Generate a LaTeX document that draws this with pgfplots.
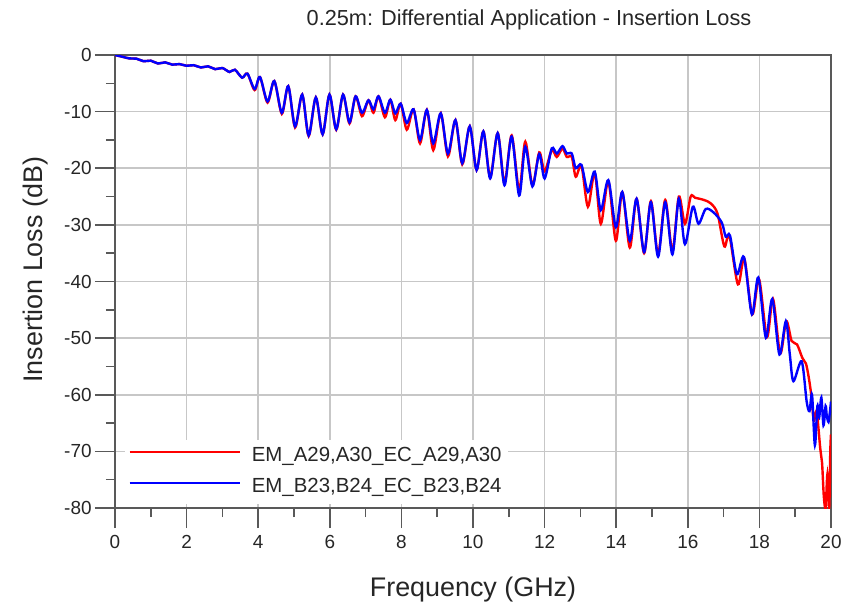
\documentclass[border=0pt]{standalone}
\usepackage{fontspec}
\setmainfont{Liberation Sans}
\usepackage{pgfplots}
\pgfplotsset{compat=1.18}
\begin{document}
\begin{tikzpicture}
\useasboundingbox (-57.5bp,-50bp) rectangle (365.5bp,254bp);
\node[font=\fontsize{10.9}{13}\selectfont, text=black!85] at (207bp,244bp) {0.25m: Differential Application - Insertion Loss};
\begin{axis}[
  at={(0,0)}, anchor=south west,
  scale only axis, width=358bp, height=226.5bp,
  xmin=0, xmax=20, ymin=-80, ymax=0,
  xtick={0,2,...,20}, ytick={-80,-70,...,0},
  minor x tick num=1, minor y tick num=1,
  tick pos=left, tick align=outside,
  major tick length=10bp, minor tick length=4.5bp,
  grid=major, major grid style={black!22, line width=0.8bp},
  axis line style={black!65, line width=0.8bp},
  every tick/.style={black!65, line width=0.8bp},
  ticklabel style={font=\fontsize{9.5}{11}\selectfont, text=black!85},
  yticklabel style={inner xsep=1.5bp},
  /pgf/number format/assume math mode=true,
  xlabel={Frequency (GHz)}, ylabel={Insertion Loss (dB)},
  label style={font=\fontsize{13.5}{16}\selectfont, text=black!85},
  xlabel style={at={(axis description cs:0.5,-0.181)}, anchor=center},
  ylabel style={at={(axis description cs:-0.1103,0.526)}, anchor=center},
  legend cell align=left,
  legend image code/.code={\draw[#1] (0bp,2bp) -- (55bp,2bp);},
  legend style={draw=none, fill=white, at={(axis description cs:0.014,0.0088)}, anchor=south west,
    font=\fontsize{10.25}{12}\selectfont, text=black!85,
    inner xsep=1.5bp, inner ysep=2bp,
    nodes={inner sep=1.5bp, text height=7.5bp, text depth=2bp},
    column sep=4bp, row sep=3bp},
]
\addplot[red, line width=1.2bp, smooth] coordinates {
(0,0) (0.2,-0.3) (0.4,-0.6) (0.6,-0.65) (0.8,-1.1) (1.0,-1.0) (1.2,-1.5) (1.4,-1.3)
(1.6,-1.7) (1.8,-1.6) (2.0,-1.9) (2.2,-1.8) (2.4,-2.2) (2.6,-2.0) (2.8,-2.5) (3.0,-2.3)
(3.2,-3.0) (3.35,-2.6) (3.55,-4.0) (3.7,-3.3) (3.9,-6.2) (4.05,-3.9) (4.26,-8.4) (4.45,-4.6)
(4.66,-10.4) (4.84,-5.5) (5.03,-12.8) (5.23,-7.0) (5.41,-14.3) (5.61,-7.5) (5.80,-14.0)
(5.99,-7.0) (6.18,-13.2) (6.37,-7.0) (6.55,-12.1) (6.72,-7.3) (6.90,-10.8) (7.08,-8.0)
(7.22,-10.2) (7.36,-7.3) (7.54,-11.0) (7.69,-7.9) (7.83,-11.5) (7.98,-8.6) (8.15,-13.2)
(8.34,-9.6) (8.52,-15.6) (8.71,-9.7) (8.89,-16.8) (9.10,-10.3) (9.30,-17.9) (9.51,-11.5)
(9.70,-19.3) (9.91,-12.6) (10.10,-20.3) (10.29,-13.5) (10.48,-21.6) (10.69,-13.8)
(10.88,-22.6) (11.08,-14.2) (11.29,-23.9) (11.46,-15.3) (11.66,-23.0) (11.85,-17.2)
(12.0,-20.5) (12.2,-16.8) (12.34,-18.0) (12.5,-16.5) (12.62,-18.0) (12.76,-18.0)
(12.87,-21.5) (13.03,-19.6) (13.21,-26.8) (13.40,-20.8) (13.57,-29.8) (13.78,-22.3)
(13.99,-32.8) (14.17,-24.2) (14.38,-34.0) (14.57,-25.4) (14.78,-35.0) (14.97,-25.8)
(15.17,-35.2) (15.37,-25.6) (15.57,-34.6) (15.75,-25.0) (15.92,-29.8) (16.08,-25.0)
(16.2,-25.2) (16.45,-25.6) (16.64,-26.2) (16.83,-28.0) (17.02,-33.8) (17.16,-31.9)
(17.40,-40.5) (17.58,-36.0) (17.80,-45.8) (17.99,-39.6) (18.21,-49.8) (18.38,-43.1)
(18.58,-52.7) (18.75,-47.0) (18.90,-50.5) (19.05,-51.1) (19.2,-53.5) (19.3,-54.5)
(19.38,-57) (19.46,-60.6) (19.52,-64.6) (19.6,-63) (19.7,-69.5) (19.75,-72) (19.8,-78)
(19.85,-80) (19.9,-74) (19.95,-80) (19.98,-70) (20.0,-67)
};
\addlegendentry{EM\_A29,A30\_EC\_A29,A30}
\addplot[blue, line width=1.2bp, smooth] coordinates {
(0,0) (0.2,-0.3) (0.4,-0.6) (0.6,-0.65) (0.8,-1.1) (1.0,-1.0) (1.2,-1.5) (1.4,-1.3)
(1.6,-1.7) (1.8,-1.6) (2.0,-1.9) (2.2,-1.8) (2.4,-2.2) (2.6,-2.0) (2.8,-2.5) (3.0,-2.3)
(3.2,-3.0) (3.35,-2.6) (3.55,-4.0) (3.7,-3.3) (3.9,-6.0) (4.05,-3.9) (4.26,-8.2) (4.45,-4.6)
(4.66,-10.2) (4.84,-5.5) (5.03,-12.6) (5.23,-7.0) (5.41,-14.2) (5.61,-7.5) (5.80,-14.0)
(5.99,-7.0) (6.18,-13.1) (6.37,-7.0) (6.55,-11.9) (6.72,-7.3) (6.90,-10.2) (7.08,-8.0)
(7.22,-9.6) (7.36,-7.3) (7.54,-10.2) (7.69,-7.9) (7.83,-10.3) (7.98,-8.6) (8.15,-12.0)
(8.34,-9.6) (8.52,-15.0) (8.71,-9.7) (8.89,-15.6) (9.10,-10.3) (9.30,-17.4) (9.51,-11.5)
(9.70,-19.1) (9.91,-12.6) (10.10,-20.3) (10.29,-13.5) (10.48,-21.8) (10.69,-13.8)
(10.88,-23.0) (11.08,-14.4) (11.29,-24.8) (11.46,-16.2) (11.66,-23.2) (11.85,-17.5)
(12.0,-21.8) (12.2,-16.5) (12.34,-17.4) (12.5,-16.1) (12.62,-17.4) (12.76,-17.4)
(12.87,-20.0) (13.03,-19.4) (13.21,-24.2) (13.40,-20.6) (13.57,-27.4) (13.78,-22.1)
(13.99,-30.4) (14.17,-24.2) (14.38,-32.8) (14.57,-25.4) (14.78,-34.8) (14.97,-26.0)
(15.17,-35.6) (15.37,-26.0) (15.57,-35.2) (15.75,-25.4) (15.92,-33.4) (16.14,-26.8)
(16.30,-29.8) (16.50,-27.2) (16.72,-27.8) (16.95,-29.6) (17.06,-32.1) (17.18,-31.9)
(17.37,-38.7) (17.57,-35.7) (17.79,-45.8) (17.97,-39.3) (18.18,-49.9) (18.36,-43.1)
(18.56,-52.9) (18.74,-47.0) (18.85,-52.9) (18.95,-57.6) (19.18,-54.1) (19.32,-61.2)
(19.40,-62.9) (19.47,-60) (19.55,-68.9) (19.62,-62) (19.67,-64) (19.73,-60.5)
(19.79,-65.4) (19.85,-62) (19.88,-63.6) (19.93,-64.8) (19.97,-63) (20.0,-61.2)
};
\addlegendentry{EM\_B23,B24\_EC\_B23,B24}
\end{axis}
\end{tikzpicture}
\end{document}
